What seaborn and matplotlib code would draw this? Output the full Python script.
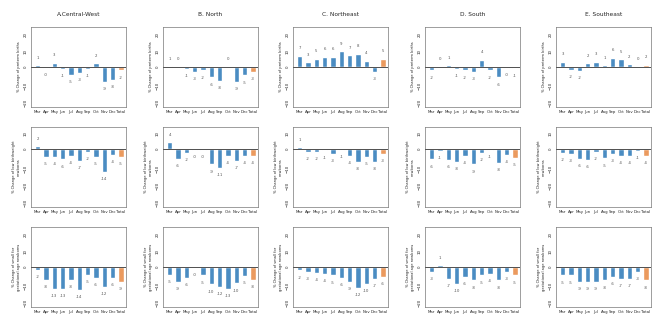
import pandas as pd
import seaborn as sns
import matplotlib.pyplot as plt

months = ['Mar', 'Apr', 'May', 'Jun', 'Jul', 'Aug', 'Sep', 'Oct', 'Nov', 'Dec', 'Total']
regions = ['A.Central-West', 'B. North', 'C. Northeast', 'D. South', 'E. Southeast']
ylabels = ['% Change of preterm births',
           '% Change of low birthweight\nnewborns',
           '% Change of small for\ngestational age newborns']

# row 1: preterm births
preterm_cw = [1, -0.4, 2.7, -1, -4.8, -3.3, -1, 2.3, -8.7, -7.9, -2]
preterm_n = [0.6, 0.2, -1, -3, -2, -6.2, -8.3, 0.2, -9, -5, -3]
preterm_ne = [6.9, 2.9, 5, 6.2, 6.2, 9.4, 7, 8, 3.8, -3, 5]
preterm_s = [-2, 0.3, 1, -1.2, -2, -3, 4.5, -2, -6.2, -0.5, -0.8]
preterm_se = [3.3, -1.5, -2.3, 2.3, 3.3, 1, 5.6, 4.6, 1.8, 0.3, 1.5]

# row 2: low birthweight
lbw_cw = [2, -4.6, -4.4, -6, -4, -7, -1.5, -4.6, -13.6, -3.5, -4.6]
lbw_n = [4, -5.8, -2, -0.5, -0.5, -9, -11, -4, -7, -4, -4]
lbw_ne = [1, -1.5, -1.5, -0.8, -3, -0.6, -4, -7.5, -4.6, -7.5, -3]
lbw_s = [-6, -1, -6.3, -7.5, -4, -9, -2.3, -0.6, -8, -3.5, -5]
lbw_se = [-2, -2.7, -5.8, -6.3, -1.5, -5.4, -2.7, -4.2, -4.2, -1, -3.8]

# row 3: small for gestational age
sga_cw = [-1.9, -7.7, -13, -13, -7.7, -13.8, -4.8, -6.3, -12, -6.5, -8.7]
sga_n = [-4.8, -8.7, -6.3, -0.2, -5, -10.4, -11.7, -13, -9.8, -5.4, -7.7]
sga_ne = [-2, -3, -3.5, -4, -5, -6.5, -9, -12.5, -10, -7, -6]
sga_s = [-3, 1, -7, -10, -6, -8, -5, -4, -8, -3, -5]
sga_se = [-5, -5, -9, -9, -9, -8, -6, -7, -7, -3, -8]

rows = [
    [preterm_cw, preterm_n, preterm_ne, preterm_s, preterm_se],
    [lbw_cw, lbw_n, lbw_ne, lbw_s, lbw_se],
    [sga_cw, sga_n, sga_ne, sga_s, sga_se],
]
ylims = [(-24, 24), (-34, 13), (-24, 24)]
yticks = [[-20, -10, 0, 10, 20], [-30, -20, -10, 0, 10], [-20, -10, 0, 10, 20]]

sns.set_style('white')
plt.rcParams['font.family'] = ['DejaVu Sans']

fig = plt.figure(figsize=(6.66, 3.33), dpi=100)
lefts = [31, 163, 293, 425, 556]
blue = '#4a8cc2'
orange = '#eb9a5e'

for r, row in enumerate(rows):
    for c, vals in enumerate(row):
        top = 27 + 100 * r
        ax = fig.add_axes([lefts[c] / 666, 1 - (top + 80) / 333, 95 / 666, 80 / 333])
        df = pd.DataFrame({'month': months, 'value': vals})
        sns.barplot(data=df, x='month', y='value', hue='month', ax=ax,
                    palette=[blue] * 10 + [orange], width=0.62, legend=False,
                    saturation=1)
        ax.axhline(0, color='#333333', lw=0.6, zorder=3)
        lo, hi = ylims[r]
        off = (hi - lo) * 0.09
        for i, v in enumerate(vals):
            y = v + off if v >= 0 else v - off
            ax.text(i, y, f'{v:.0f}', ha='center', va='center', fontsize=2.8,
                    color='#555555')
        ax.set_ylim(lo, hi)
        ax.set_yticks(yticks[r])
        ax.set_xlim(-0.8, 10.6)
        ax.tick_params(axis='y', labelsize=2.8, length=1.5, width=0.4, pad=1,
                       labelrotation=90)
        ax.tick_params(axis='x', labelsize=2.8, length=0, pad=2)
        ax.set_xlabel('')
        ax.set_ylabel(ylabels[r], fontsize=2.6, labelpad=2)
        for s in ax.spines.values():
            s.set_linewidth(0.5)
            s.set_color('#777777')
        if r == 0:
            ax.set_title(regions[c], fontsize=4.2, pad=8)

fig.savefig('out.png', dpi=100)
